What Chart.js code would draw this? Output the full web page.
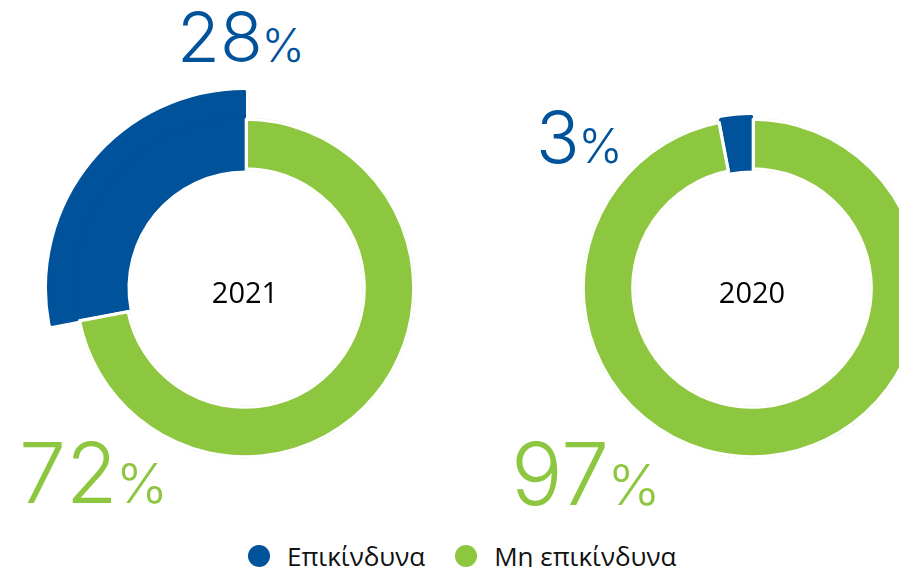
<!DOCTYPE html>
<html>
<head>
<meta charset="utf-8">
<script src="https://cdn.jsdelivr.net/npm/chart.js@4.4.1/dist/chart.umd.min.js"></script>
<style>
  html, body { margin: 0; padding: 0; background: #fff; }
  body {
    width: 899px; height: 567px; position: relative; overflow: hidden;
    font-family: "Open Sans", "Noto Sans", sans-serif;
  }
  .pie { position: absolute; }
  .pct {
    position: absolute; white-space: nowrap;
    font-family: Inter, "Open Sans", sans-serif; font-weight: 300;
  }
  .pct .sign { font-size: 0.66em; margin-left: -0.03em; }
  .pct .mark { display: inline-block; width: 0; height: 0; }
  .legend {
    position: absolute; left: 248px; top: 538px;
    display: flex; align-items: center;
    font-size: 26px; color: #111;
  }
  .legend span.item { display: flex; align-items: center; margin-right: 30px; }
  .legend i { display: inline-block; width: 22px; height: 22px; border-radius: 50%; margin-right: 17px; }
</style>
</head>
<body>
<div class="legend" id="legend"></div>
<script>
// waste split per year, in percent
const years = ['2021', '2020'];
const categories = ['Επικίνδυνα', 'Μη επικίνδυνα'];
const hazardous = [28, 3];
const nonHazardous = [72, 97];
const colors = ['#00529b', '#8dc63f'];

// where each ring sits on the page; `lift` is the outer edge of the raised slice
const rings = [
  { cx: 245, cy: 288, lift: 197 },
  { cx: 752, cy: 288, lift: 172 }
];
const RING_OUT = 170.5, RING_IN = 117.5;

// percentage labels: [top label, bottom label] for each ring
const pctPos = [
  { top: { x: 177, base: 62, size: 70 }, bottom: { x: 19, base: 503, size: 84 } },
  { top: { x: 536, base: 163, size: 72 }, bottom: { x: 511, base: 505, size: 86 } }
];

const yearLabel = {
  id: 'yearLabel',
  afterDatasetsDraw(chart) {
    const arc = chart.getDatasetMeta(1).data[0];
    const ctx = chart.ctx;
    ctx.save();
    ctx.fillStyle = '#000';
    ctx.font = '400 29px "Open Sans", "Noto Sans", sans-serif';
    ctx.textAlign = 'center';
    ctx.textBaseline = 'alphabetic';
    ctx.fillText(chart.options.plugins.yearLabel.text, arc.x, arc.y + 15);
    ctx.restore();
  }
};

// big percentage figure, placed by its baseline
function addPct(value, pos, color) {
  const d = document.createElement('div');
  d.className = 'pct';
  d.style.left = pos.x + 'px';
  d.style.top = '0px';
  d.style.fontSize = pos.size + 'px';
  d.style.color = color;
  d.innerHTML = '<span class="mark"></span>' + value + '<span class="sign">%</span>';
  document.body.appendChild(d);
  const baseline = d.querySelector('.mark').offsetTop;
  d.style.top = (pos.base - baseline) + 'px';
}

rings.forEach((r, i) => {
  const total = hazardous[i] + nonHazardous[i];
  const size = 2 * Math.ceil(r.lift + 4);
  const canvas = document.createElement('canvas');
  canvas.className = 'pie';
  canvas.width = size;
  canvas.height = size;
  canvas.style.width = size + 'px';
  canvas.style.height = size + 'px';
  canvas.style.left = (r.cx - size / 2) + 'px';
  canvas.style.top = (r.cy - size / 2) + 'px';
  document.body.appendChild(canvas);

  new Chart(canvas, {
    type: 'doughnut',
    data: {
      labels: categories,
      datasets: [
        {
          // raised outer part of the hazardous slice
          data: [hazardous[i], nonHazardous[i]],
          backgroundColor: [colors[0], 'rgba(0,0,0,0)'],
          borderColor: [colors[0], 'rgba(0,0,0,0)'],
          borderWidth: [2, 0],
          weight: r.lift - RING_OUT
        },
        {
          data: [hazardous[i], nonHazardous[i]],
          backgroundColor: colors,
          borderColor: '#fff',
          borderWidth: [0, 3],
          borderAlign: ['center', 'inner'],
          weight: RING_OUT - RING_IN
        }
      ]
    },
    options: {
      responsive: false,
      animation: false,
      events: [],
      radius: r.lift,
      cutout: (RING_IN / r.lift * 100) + '%',
      rotation: -hazardous[i] / total * 360,
      layout: { padding: 0 },
      plugins: {
        legend: { display: false },
        tooltip: { enabled: false },
        yearLabel: { text: years[i] }
      }
    },
    plugins: [yearLabel]
  });

  addPct(hazardous[i], pctPos[i].top, colors[0]);
  addPct(nonHazardous[i], pctPos[i].bottom, colors[1]);
});

const legend = document.getElementById('legend');
categories.forEach((c, k) => {
  const s = document.createElement('span');
  s.className = 'item';
  s.innerHTML = '<i style="background:' + colors[k] + '"></i>' + c;
  legend.appendChild(s);
});
</script>
</body>
</html>
